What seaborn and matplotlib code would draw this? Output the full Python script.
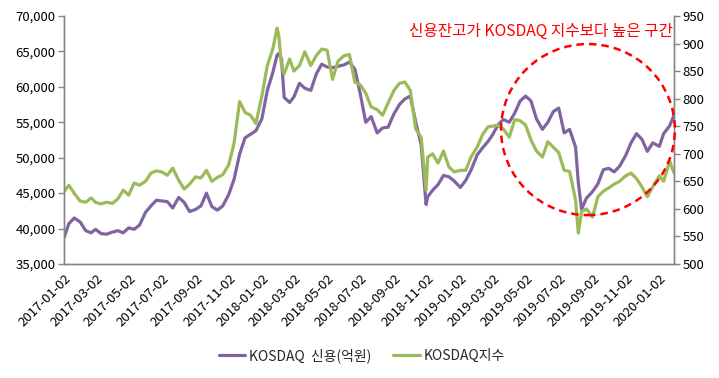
import matplotlib
matplotlib.use("Agg")
import matplotlib.pyplot as plt
import matplotlib.dates as mdates
from matplotlib.patches import Ellipse
from matplotlib.lines import Line2D
import matplotlib.ticker as mticker
import pandas as pd
import seaborn as sns

# Dates (roughly the 1st, 11th and 21st of each month, plus a few spike days)
dates = [
    "2017-01-02", "2017-01-11", "2017-01-21",
    "2017-02-01", "2017-02-11", "2017-02-21",
    "2017-03-01", "2017-03-11", "2017-03-21",
    "2017-04-01", "2017-04-11", "2017-04-21",
    "2017-05-01", "2017-05-11", "2017-05-21",
    "2017-06-01", "2017-06-11", "2017-06-21",
    "2017-07-01", "2017-07-11", "2017-07-21",
    "2017-08-01", "2017-08-11", "2017-08-21",
    "2017-09-01", "2017-09-11", "2017-09-21",
    "2017-10-01", "2017-10-11", "2017-10-21",
    "2017-11-01", "2017-11-11", "2017-11-21",
    "2017-12-01", "2017-12-11", "2017-12-21",
    "2018-01-01", "2018-01-11", "2018-01-21", "2018-01-29",
    "2018-02-01", "2018-02-06", "2018-02-11", "2018-02-21",
    "2018-03-01", "2018-03-11", "2018-03-21",
    "2018-04-01", "2018-04-11", "2018-04-21",
    "2018-05-01", "2018-05-11", "2018-05-21",
    "2018-06-01", "2018-06-11", "2018-06-21",
    "2018-07-01", "2018-07-11", "2018-07-21",
    "2018-08-01", "2018-08-11", "2018-08-21",
    "2018-09-01", "2018-09-11", "2018-09-21",
    "2018-10-01", "2018-10-11", "2018-10-21", "2018-10-30",
    "2018-11-02", "2018-11-11", "2018-11-21",
    "2018-12-01", "2018-12-11", "2018-12-21",
    "2019-01-01", "2019-01-11", "2019-01-21",
    "2019-02-01", "2019-02-11", "2019-02-21",
    "2019-03-01", "2019-03-11", "2019-03-21",
    "2019-04-01", "2019-04-11", "2019-04-21",
    "2019-05-01", "2019-05-11", "2019-05-21",
    "2019-06-01", "2019-06-11", "2019-06-21",
    "2019-07-01", "2019-07-11", "2019-07-21",
    "2019-08-01", "2019-08-06", "2019-08-12", "2019-08-21",
    "2019-09-01", "2019-09-11", "2019-09-21",
    "2019-10-01", "2019-10-11", "2019-10-21",
    "2019-11-01", "2019-11-11", "2019-11-21",
    "2019-12-01", "2019-12-11", "2019-12-21",
    "2020-01-02", "2020-01-10", "2020-01-21", "2020-01-29",
]

# KOSDAQ credit balance (100 million KRW)
credit = [
    38700, 40700, 41500,
    40900, 39700, 39400,
    39900, 39300, 39200,
    39500, 39700, 39400,
    40100, 39900, 40500,
    42300, 43200, 44000,
    43900, 43800, 42900,
    44400, 43700, 42400,
    42700, 43200, 45000,
    43100, 42600, 43200,
    44800, 47000, 50500,
    52800, 53300, 53800,
    55500, 59500, 62000, 64500,
    64700, 64000, 58500, 57800,
    58600, 60500, 59800,
    59500, 61800, 63200,
    62800, 62700, 62900,
    63100, 63500, 62500,
    59000, 55000, 55800,
    53500, 54200, 54300,
    56200, 57500, 58300,
    58700, 55000, 51800, 43400,
    44500, 45400, 46200,
    47500, 47300, 46700,
    45800, 46800, 48300,
    50400, 51400, 52300,
    53200, 54600, 55400,
    55000, 56300, 58000,
    58700, 58000, 55500,
    54000, 55000, 56500,
    57000, 53500, 54000,
    51500, 46500, 42700, 44300,
    45200, 46300, 48300,
    48500, 48000, 48800,
    50300, 52100, 53400,
    52600, 50900, 52100,
    51600, 53400, 54500, 56000,
]

# KOSDAQ index
kosdaq = [
    631, 643, 628,
    614, 612, 620,
    612, 609, 612,
    610, 618, 634,
    625, 647, 643,
    650, 665, 669,
    667, 661, 674,
    652, 636, 645,
    658, 656, 670,
    650, 657, 662,
    680, 720, 795,
    775, 770, 755,
    805, 860, 890, 928,
    915, 860, 845, 872,
    850, 860, 885,
    860, 878, 890,
    888, 835, 868,
    878, 880, 830,
    825, 810, 785,
    780, 770, 792,
    815, 828, 830,
    815, 745, 730, 634,
    694, 700, 683,
    705, 676, 667,
    670, 670, 695,
    712, 735, 749,
    750, 752, 745,
    730, 762, 760,
    752, 725, 705,
    694, 722, 712,
    702, 670, 668,
    616, 556, 595, 600,
    585, 622, 632,
    638, 645, 650,
    660, 665, 655,
    640, 622, 640,
    660, 650, 687, 665,
]

credit_label = "KOSDAQ  신용(억원)"
index_label = "KOSDAQ지수"
note_text = "신용잔고가 KOSDAQ 지수보다 높은 구간"

df = pd.DataFrame({"date": pd.to_datetime(dates), "credit": credit, "kosdaq": kosdaq})

sns.set_style("white")
plt.rcParams["font.family"] = ["Noto Sans CJK KR", "DejaVu Sans"]

purple = "#8064A2"
green = "#9BBB59"
axis_gray = "#868686"

fig = plt.figure(figsize=(7.19, 3.78), dpi=100)
ax = fig.add_axes([0.089, 0.3016, 0.8484, 0.6561])
ax2 = ax.twinx()

sns.lineplot(data=df, x="date", y="credit", ax=ax, color=purple, linewidth=2.3)
sns.lineplot(data=df, x="date", y="kosdaq", ax=ax2, color=green, linewidth=2.3)

ax.set_xlim(df["date"].iloc[0], df["date"].iloc[-1])
ax.set_ylim(35000, 70000)
ax2.set_ylim(500, 950)
ax.yaxis.set_major_locator(mticker.MultipleLocator(5000))
ax.yaxis.set_major_formatter(mticker.FuncFormatter(lambda v, p: f"{int(v):,}"))
ax2.yaxis.set_major_locator(mticker.MultipleLocator(50))

ax.xaxis.set_major_locator(mdates.MonthLocator(bymonth=[1, 3, 5, 7, 9, 11], bymonthday=2))
ax.xaxis.set_major_formatter(mdates.DateFormatter("%Y-%m-%d"))

for a in (ax, ax2):
    a.set_xlabel("")
    a.set_ylabel("")
    a.spines["top"].set_visible(False)
    for s in ("left", "right", "bottom"):
        a.spines[s].set_color(axis_gray)
        a.spines[s].set_linewidth(1.0)
    a.tick_params(axis="both", which="major", direction="out", length=4,
                  width=1.0, color=axis_gray, labelsize=9.5, labelcolor="black", pad=2)
    if a.get_legend():
        a.get_legend().remove()

plt.setp(ax.get_xticklabels(), rotation=45, ha="right", rotation_mode="anchor")

# highlight circle and note
circle = Ellipse((0.859, 0.542), 0.285, 0.690, transform=ax.transAxes,
                 fill=False, edgecolor="#FF0000", linestyle=(0, (3, 2)), linewidth=1.8,
                 clip_on=False, zorder=5)
ax2.add_patch(circle)
ax2.text(0.998, 0.94, note_text, transform=ax.transAxes, ha="right", va="center",
         color="#FF0000", fontsize=11.3)

handles = [Line2D([], [], color=purple, linewidth=2.3),
           Line2D([], [], color=green, linewidth=2.3)]
fig.legend(handles, [credit_label, index_label], loc="center", bbox_to_anchor=(0.503, 0.06),
           ncol=2, frameon=False, fontsize=10, handlelength=1.9, handletextpad=0.25,
           columnspacing=1.6)

fig.savefig("out.png", dpi=100)
